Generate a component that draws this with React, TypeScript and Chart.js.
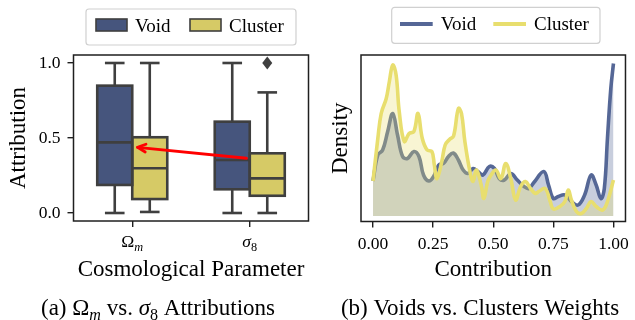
import React, { useEffect, useRef } from 'react';
import { Chart, registerables } from 'chart.js';

Chart.register(...registerables);

// ---------- data ----------
const categories = ['Ω_m', 'σ_8'];

const voidLow = [0.0, 0.0];
const voidQ1 = [0.187, 0.158];
const voidMedian = [0.471, 0.353];
const voidQ3 = [0.849, 0.609];
const voidHigh = [1.0, 1.0];
const voidOutliers: number[][] = [[], []];

const clusterLow = [0.007, 0.0];
const clusterQ1 = [0.093, 0.115];
const clusterMedian = [0.298, 0.231];
const clusterQ3 = [0.505, 0.398];
const clusterHigh = [1.0, 0.804];
const clusterOutliers: number[][] = [[], [1.0]];

const attributionTicks = [0, 0.5, 1.0];

// arrow annotation: from sigma_8 void median towards Omega_m (category index, value)
const arrowTail = { index: 0.972, value: 0.365 };
const arrowHead = { index: 0.045, value: 0.438 };

const contributionTicks = [0, 0.25, 0.5, 0.75, 1.0];

const voidX = [
  0, 0.02, 0.04, 0.061, 0.082, 0.102, 0.123, 0.143, 0.17, 0.191, 0.21, 0.232,
  0.252, 0.273, 0.293, 0.314, 0.334, 0.355, 0.375, 0.395, 0.416, 0.436, 0.457,
  0.484, 0.505, 0.525, 0.546, 0.573, 0.6, 0.628, 0.648, 0.669, 0.71, 0.73,
  0.75, 0.771, 0.798, 0.825, 0.853, 0.88, 0.907, 0.928, 0.948, 0.962, 0.975,
  0.989, 1.0,
];
const voidDensity = [
  0.7, 1.22, 1.32, 1.69, 2.05, 1.62, 1.19, 1.15, 1.29, 1.19, 0.82, 0.7,
  0.79, 1.02, 1.05, 1.19, 1.26, 1.12, 0.92, 0.85, 0.95, 0.89, 0.82,
  0.99, 0.95, 0.75, 0.72, 0.85, 0.72, 0.59, 0.55, 0.67, 0.89, 0.62,
  0.35, 0.39, 0.42, 0.29, 0.22, 0.42, 0.82, 0.62, 0.35, 0.55, 1.55,
  2.55, 3.05,
];

const clusterX = [
  0, 0.02, 0.034, 0.055, 0.068, 0.082, 0.096, 0.109, 0.13, 0.15, 0.17, 0.187,
  0.205, 0.225, 0.245, 0.255, 0.266, 0.286, 0.3, 0.318, 0.335, 0.355, 0.368,
  0.382, 0.403, 0.416, 0.43, 0.45, 0.461, 0.477, 0.491, 0.511, 0.532, 0.552,
  0.573, 0.593, 0.614, 0.634, 0.655, 0.675, 0.689, 0.716, 0.737, 0.75, 0.777,
  0.798, 0.812, 0.825, 0.846, 0.866, 0.887, 0.907, 0.928, 0.955, 0.975, 1.0,
];
const clusterDensity = [
  0.7, 1.55, 2.05, 2.35, 2.69, 3.02, 2.82, 2.09, 1.49, 1.65, 1.69, 2.05,
  1.55, 1.32, 1.29, 1.02, 0.75, 1.09, 1.42, 1.53, 1.6, 2.15, 2.05,
  1.49, 0.89, 0.69, 0.92, 0.62, 0.35, 0.69, 0.82, 0.92, 0.75, 1.05,
  0.75, 0.32, 0.59, 0.69, 0.55, 0.45, 0.49, 0.55, 0.29, 0.14, 0.19,
  0.29, 0.52, 0.32, 0.09, 0.05, 0.15, 0.29, 0.19, 0.12, 0.29, 0.72,
];

// ---------- style ----------
const SERIF = "'Liberation Serif', 'Times New Roman', serif";
const EDGE = '#3f3f3f';
const SPINE = '#1f1f1f';
const VOID_BOX = '#46557d';
const CLUSTER_BOX = '#d6ca66';
const VOID_LINE = '#556796';
const CLUSTER_LINE = '#e8de6e';
const VOID_FILL = 'rgba(85,103,150,0.32)';
const CLUSTER_FILL = 'rgba(232,222,110,0.3)';

Chart.defaults.font.family = SERIF;
Chart.defaults.color = '#000';

type Seg = { t: string; size: number; italic?: boolean; dy?: number };

// turn "X_y" into a base glyph and a lowered, smaller subscript
function mathSegs(label: string, size: number): Seg[] {
  const [base, sub] = label.split('_');
  const segs: Seg[] = [{ t: base, size, italic: /[a-zα-ω]/.test(base) }];
  if (sub) segs.push({ t: sub, size: size * 0.7, italic: /[a-z]/.test(sub), dy: size * 0.22 });
  return segs;
}

function fontOf(s: Seg) {
  return `${s.italic ? 'italic ' : ''}${s.size}px ${SERIF}`;
}

function drawRich(ctx: CanvasRenderingContext2D, segs: Seg[], cx: number, baseline: number) {
  ctx.save();
  ctx.textAlign = 'left';
  ctx.textBaseline = 'alphabetic';
  ctx.fillStyle = '#000';
  let w = 0;
  for (const s of segs) {
    ctx.font = fontOf(s);
    w += ctx.measureText(s.t).width;
  }
  let x = cx - w / 2;
  for (const s of segs) {
    ctx.font = fontOf(s);
    ctx.fillText(s.t, x, baseline + (s.dy || 0));
    x += ctx.measureText(s.t).width;
  }
  ctx.restore();
}

function drawText(ctx: CanvasRenderingContext2D, text: string, x: number, y: number, size: number, rotate = false) {
  ctx.save();
  ctx.font = `${size}px ${SERIF}`;
  ctx.fillStyle = '#000';
  ctx.textAlign = 'center';
  ctx.textBaseline = 'alphabetic';
  ctx.translate(x, y);
  if (rotate) ctx.rotate(-Math.PI / 2);
  ctx.fillText(text, 0, 0);
  ctx.restore();
}

function line(ctx: CanvasRenderingContext2D, x1: number, y1: number, x2: number, y2: number) {
  ctx.beginPath();
  ctx.moveTo(x1, y1);
  ctx.lineTo(x2, y2);
  ctx.stroke();
}

function frame(ctx: CanvasRenderingContext2D, a: { left: number; top: number; right: number; bottom: number }) {
  ctx.save();
  ctx.strokeStyle = SPINE;
  ctx.lineWidth = 1.5;
  ctx.strokeRect(a.left, a.top, a.right - a.left, a.bottom - a.top);
  ctx.restore();
}

function legendFrame(ctx: CanvasRenderingContext2D, x: number, y: number, w: number, h: number) {
  ctx.save();
  ctx.beginPath();
  ctx.roundRect(x, y, w, h, 3);
  ctx.fillStyle = 'rgba(255,255,255,0.8)';
  ctx.fill();
  ctx.strokeStyle = '#d0d0d0';
  ctx.lineWidth = 1.2;
  ctx.stroke();
  ctx.restore();
}

const boxStats = [
  { low: voidLow, q1: voidQ1, med: voidMedian, q3: voidQ3, high: voidHigh, out: voidOutliers },
  { low: clusterLow, q1: clusterQ1, med: clusterMedian, q3: clusterQ3, high: clusterHigh, out: clusterOutliers },
];

// whiskers, outlines, medians and fliers on top of the floating bars
const boxPlotPlugin = {
  id: 'boxPlot',
  afterDatasetsDraw(chart: any) {
    const ctx: CanvasRenderingContext2D = chart.ctx;
    const ys = chart.scales.y;
    ctx.save();
    ctx.strokeStyle = EDGE;
    ctx.fillStyle = EDGE;
    ctx.lineWidth = 2.6;
    boxStats.forEach((s, di) => {
      const meta = chart.getDatasetMeta(di);
      meta.data.forEach((bar: any, i: number) => {
        const p = bar.getProps(['x', 'y', 'base', 'width'], true);
        const left = p.x - p.width / 2;
        const right = p.x + p.width / 2;
        const cap = p.width * 0.28;
        const hi = ys.getPixelForValue(s.high[i]);
        const lo = ys.getPixelForValue(s.low[i]);
        line(ctx, p.x, p.y, p.x, hi);
        line(ctx, p.x - cap, hi, p.x + cap, hi);
        line(ctx, p.x, p.base, p.x, lo);
        line(ctx, p.x - cap, lo, p.x + cap, lo);
        ctx.strokeRect(left, p.y, p.width, p.base - p.y);
        const m = ys.getPixelForValue(s.med[i]);
        line(ctx, left, m, right, m);
        s.out[i].forEach((v) => {
          const oy = ys.getPixelForValue(v);
          ctx.beginPath();
          ctx.moveTo(p.x, oy - 6.5);
          ctx.lineTo(p.x + 5, oy);
          ctx.lineTo(p.x, oy + 6.5);
          ctx.lineTo(p.x - 5, oy);
          ctx.closePath();
          ctx.fill();
        });
      });
    });
    ctx.restore();
  },
  afterDraw(chart: any) {
    const ctx: CanvasRenderingContext2D = chart.ctx;
    const xs = chart.scales.x;
    const ys = chart.scales.y;
    const a = chart.chartArea;
    frame(ctx, a);

    // arrow
    const x1 = xs.getPixelForValue(arrowTail.index);
    const y1 = ys.getPixelForValue(arrowTail.value);
    const x2 = xs.getPixelForValue(arrowHead.index);
    const y2 = ys.getPixelForValue(arrowHead.value);
    const ang = Math.atan2(y2 - y1, x2 - x1);
    ctx.save();
    ctx.strokeStyle = '#ff0000';
    ctx.lineWidth = 2.8;
    ctx.lineCap = 'round';
    ctx.lineJoin = 'round';
    line(ctx, x1, y1, x2, y2);
    const hl = 9;
    ctx.beginPath();
    ctx.moveTo(x2 - hl * Math.cos(ang - 0.45), y2 - hl * Math.sin(ang - 0.45));
    ctx.lineTo(x2, y2);
    ctx.lineTo(x2 - hl * Math.cos(ang + 0.45), y2 - hl * Math.sin(ang + 0.45));
    ctx.stroke();
    ctx.restore();

    // category labels with subscripts
    categories.forEach((c, i) => {
      drawRich(ctx, mathSegs(c, 17.5), xs.getPixelForValue(i), 247);
    });

    drawText(ctx, 'Attribution', 25, (a.top + a.bottom) / 2, 23, true);
    drawText(ctx, 'Cosmological Parameter', (a.left + a.right) / 2, 276, 23);
    drawRich(
      ctx,
      [
        { t: '(a) ', size: 23 },
        ...mathSegs('Ω_m', 23),
        { t: ' vs. ', size: 23 },
        ...mathSegs('σ_8', 23),
        { t: ' Attributions', size: 23 },
      ],
      158,
      315
    );

    // legend
    legendFrame(ctx, 86, 9, 210, 36);
    const items = [
      { label: 'Void', color: VOID_BOX, x: 96 },
      { label: 'Cluster', color: CLUSTER_BOX, x: 190 },
    ];
    ctx.save();
    items.forEach((it) => {
      ctx.fillStyle = it.color;
      ctx.fillRect(it.x, 19, 31, 12);
      ctx.strokeStyle = EDGE;
      ctx.lineWidth = 1.6;
      ctx.strokeRect(it.x, 19, 31, 12);
      ctx.fillStyle = '#000';
      ctx.font = `19px ${SERIF}`;
      ctx.textAlign = 'left';
      ctx.textBaseline = 'alphabetic';
      ctx.fillText(it.label, it.x + 39, 31.5);
    });
    ctx.restore();
  },
};

const densityPlugin = {
  id: 'densityDecor',
  afterDraw(chart: any) {
    const ctx: CanvasRenderingContext2D = chart.ctx;
    const a = chart.chartArea;
    frame(ctx, a);
    drawText(ctx, 'Density', 29, (a.top + a.bottom) / 2, 23, true);
    drawText(ctx, 'Contribution', (a.left + a.right) / 2, 276, 23);
    drawText(ctx, '(b) Voids vs. Clusters Weights', 162, 315, 23);

    legendFrame(ctx, 73.7, 7.3, 208.3, 36);
    const items = [
      { label: 'Void', color: VOID_LINE, x: 82 },
      { label: 'Cluster', color: CLUSTER_LINE, x: 175.3 },
    ];
    ctx.save();
    items.forEach((it) => {
      ctx.strokeStyle = it.color;
      ctx.lineWidth = 4;
      line(ctx, it.x, 24, it.x + 32.7, 24);
      ctx.fillStyle = '#000';
      ctx.font = `19px ${SERIF}`;
      ctx.textAlign = 'left';
      ctx.textBaseline = 'alphabetic';
      ctx.fillText(it.label, it.x + 40.7, 29.5);
    });
    ctx.restore();
  },
};

const tickGrid = {
  display: true,
  drawOnChartArea: false,
  drawTicks: true,
  tickLength: 6,
  color: SPINE,
  lineWidth: 1.4,
};

export default function App() {
  const leftRef = useRef<HTMLCanvasElement>(null);
  const rightRef = useRef<HTMLCanvasElement>(null);

  useEffect(() => {
    const left = new Chart(leftRef.current!, {
      type: 'bar',
      data: {
        labels: categories,
        datasets: [
          {
            label: 'Void',
            data: categories.map((_, i) => [voidQ1[i], voidQ3[i]]) as any,
            backgroundColor: VOID_BOX,
            borderWidth: 0,
            categoryPercentage: 0.596,
            barPercentage: 1,
          },
          {
            label: 'Cluster',
            data: categories.map((_, i) => [clusterQ1[i], clusterQ3[i]]) as any,
            backgroundColor: CLUSTER_BOX,
            borderWidth: 0,
            categoryPercentage: 0.596,
            barPercentage: 1,
          },
        ],
      },
      options: {
        responsive: false,
        animation: false,
        events: [],
        layout: { padding: { left: 13.5, right: 9.5, top: 55, bottom: 79 } },
        plugins: { legend: { display: false }, tooltip: { enabled: false } },
        scales: {
          x: {
            type: 'category',
            offset: true,
            grid: { ...tickGrid, offset: false },
            border: { display: false },
            ticks: { display: false },
            afterFit: (s: any) => {
              s.height = 20;
            },
          },
          y: {
            min: -0.0533,
            max: 1.0533,
            grid: tickGrid,
            border: { display: false },
            afterBuildTicks: (s: any) => {
              s.ticks = attributionTicks.map((v) => ({ value: v }));
            },
            ticks: {
              font: { family: SERIF, size: 17.5 },
              color: '#000',
              padding: 7,
              callback: (v: any) => Number(v).toFixed(1),
            },
            afterFit: (s: any) => {
              s.width = 60;
            },
          },
        },
      } as any,
      plugins: [boxPlotPlugin],
    });

    const right = new Chart(rightRef.current!, {
      type: 'line',
      data: {
        datasets: [
          {
            label: 'Void',
            data: voidX.map((x, i) => ({ x, y: voidDensity[i] })),
            borderColor: VOID_LINE,
            backgroundColor: VOID_FILL,
            fill: 'origin',
            borderWidth: 3.6,
            pointRadius: 0,
            tension: 0.4,
            order: 1,
          },
          {
            label: 'Cluster',
            data: clusterX.map((x, i) => ({ x, y: clusterDensity[i] })),
            borderColor: CLUSTER_LINE,
            backgroundColor: CLUSTER_FILL,
            fill: 'origin',
            borderWidth: 3.6,
            pointRadius: 0,
            tension: 0.4,
            order: 0,
          },
        ],
      },
      options: {
        responsive: false,
        animation: false,
        events: [],
        layout: { padding: { left: 43, right: 5, top: 55, bottom: 68.5 } },
        plugins: { legend: { display: false }, tooltip: { enabled: false } },
        scales: {
          x: {
            type: 'linear',
            min: -0.05,
            max: 1.05,
            grid: tickGrid,
            border: { display: false },
            afterBuildTicks: (s: any) => {
              s.ticks = contributionTicks.map((v) => ({ value: v }));
            },
            ticks: {
              font: { family: SERIF, size: 17.5 },
              color: '#000',
              padding: 6,
              maxRotation: 0,
              callback: (v: any) => Number(v).toFixed(2),
            },
            afterFit: (s: any) => {
              s.height = 30;
            },
          },
          y: {
            type: 'linear',
            min: -0.11,
            max: 3.22,
            grid: { display: false },
            border: { display: false },
            ticks: { display: false },
            afterFit: (s: any) => {
              s.width = 0;
            },
          },
        },
      } as any,
      plugins: [densityPlugin],
    });

    return () => {
      left.destroy();
      right.destroy();
    };
  }, []);

  return (
    <div style={{ position: 'fixed', left: 0, top: 0, width: 635, height: 320, background: '#fff' }}>
      <canvas ref={leftRef} width={318} height={320} style={{ position: 'absolute', left: 0, top: 0 }} />
      <canvas ref={rightRef} width={317} height={320} style={{ position: 'absolute', left: 318, top: 0 }} />
    </div>
  );
}
